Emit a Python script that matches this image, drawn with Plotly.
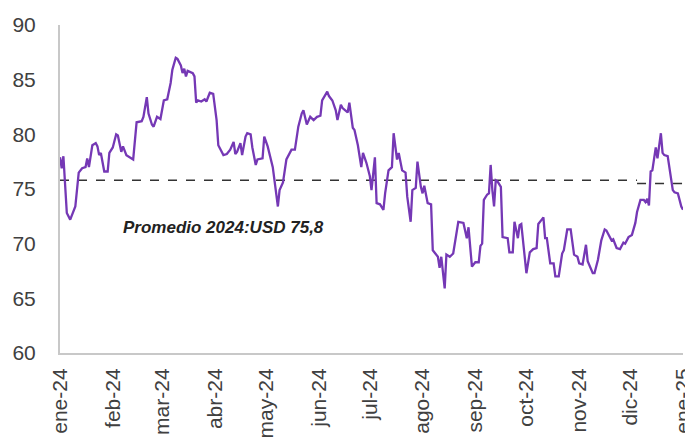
import pandas as pd
import plotly.graph_objects as go

# Brent diario 2024 (días desde el 1-ene-2024, USD/barril)
dia = [0, 1, 2, 4, 6, 9, 11, 13, 15, 16, 17, 19, 21, 22, 23, 24, 26, 28, 29, 31,
       33, 34, 36, 37, 39, 41, 43, 45, 48, 49, 51, 52, 54, 55, 57, 59, 61, 63, 65, 66,
       68, 69, 71, 72, 73, 74, 75, 78, 79, 80, 81, 83, 85, 86, 88, 90, 92, 93, 96, 98,
       100, 102, 103, 104, 106, 107, 109, 110, 112, 113, 115, 116, 119, 120, 122, 125, 126, 128, 129, 131,
       133, 136, 138, 140, 142, 143, 145, 147, 149, 151, 153, 154, 157, 158, 160, 162, 163, 165, 166, 169,
       170, 172, 173, 175, 177, 178, 180, 182, 183, 185, 186, 188, 190, 191, 193, 195, 196, 198, 199, 201,
       203, 204, 206, 207, 209, 210, 212, 213, 214, 216, 218, 219, 222, 223, 224, 226, 227, 229, 231, 233,
       234, 237, 239, 240, 242, 244, 246, 247, 248, 249, 251, 252, 253, 254, 255, 256, 257, 259, 260, 263,
       264, 266, 267, 269, 270, 271, 273, 274, 276, 278, 280, 281, 283, 284, 285, 286, 288, 290, 291, 293,
       295, 296, 298, 300, 302, 304, 305, 307, 309, 310, 313, 314, 316, 318, 320, 321, 324, 325, 327, 329,
       331, 332, 334, 336, 338, 339, 341, 343, 344, 345, 346, 347, 348, 350, 351, 353, 354, 355, 357, 360,
       361, 363, 365, 366]
precio = [77.9, 76.9, 78.0, 72.8, 72.2, 73.4, 76.5, 76.9, 77.0, 77.8, 77.0, 79.0, 79.2, 78.9, 78.1, 78.3, 76.6, 76.6, 78.3, 78.8,
          80.0, 79.9, 78.4, 78.9, 78.1, 77.9, 77.7, 81.1, 81.2, 81.6, 83.4, 81.9, 80.9, 80.7, 81.6, 81.4, 83.1, 83.2, 84.7, 85.9,
          87.0, 86.9, 86.3, 85.6, 86.0, 85.3, 85.8, 85.6, 85.3, 82.9, 83.1, 83.0, 83.2, 83.0, 83.8, 83.7, 81.3, 79.0, 78.1, 78.2,
          78.6, 79.3, 78.2, 78.4, 79.2, 78.1, 79.8, 80.1, 80.0, 78.8, 77.2, 77.7, 77.8, 79.8, 78.9, 77.0, 75.6, 73.4, 74.9, 75.6,
          77.7, 78.6, 78.6, 80.7, 81.9, 82.2, 80.9, 81.6, 81.3, 81.6, 81.7, 83.1, 83.9, 83.5, 83.1, 82.2, 81.3, 82.7, 82.4, 82.0,
          82.9, 80.6, 80.4, 79.0, 77.0, 78.3, 77.4, 76.2, 74.9, 77.9, 73.7, 73.6, 73.1, 74.6, 76.7, 77.0, 80.1, 77.7, 78.3, 76.7,
          76.5, 74.3, 72.0, 74.9, 75.1, 77.5, 75.2, 74.6, 75.3, 73.7, 73.6, 69.4, 68.8, 67.8, 68.8, 65.9, 69.0, 68.8, 69.1, 71.3,
          72.0, 71.9, 70.5, 71.5, 67.9, 68.3, 68.3, 69.8, 70.0, 74.0, 74.5, 74.6, 77.2, 74.9, 73.4, 75.8, 75.7, 75.2, 70.6, 70.5,
          69.2, 69.2, 72.0, 70.5, 71.7, 71.8, 68.5, 67.3, 69.2, 69.5, 69.6, 71.8, 72.2, 72.4, 70.5, 70.5, 68.2, 68.2, 67.0, 67.0,
          69.1, 69.4, 71.3, 71.3, 69.0, 68.8, 68.2, 68.1, 69.9, 68.4, 67.3, 67.3, 68.5, 70.3, 71.3, 71.2, 70.3, 70.4, 69.6, 69.5,
          70.1, 70.0, 70.6, 70.8, 71.9, 72.9, 74.0, 74.0, 73.8, 74.1, 73.5, 76.6, 76.7, 78.8, 77.8, 80.1, 78.3, 78.1, 78.0, 74.9,
          74.7, 74.6, 73.4, 73.1]

promedio = 75.8
promedio_dic = 75.5
meses = ["ene-24", "feb-24", "mar-24", "abr-24", "may-24", "jun-24", "jul-24",
         "ago-24", "sep-24", "oct-24", "nov-24", "dic-24", "ene-25"]

inicio = pd.Timestamp("2024-01-01")
fin = pd.Timestamp("2025-01-01")
fechas = inicio + pd.to_timedelta(dia, unit="D")
ticks = pd.date_range(inicio, fin, freq="MS")

fig = go.Figure()

# linea del promedio (con el pequeño salto de diciembre)
corte = pd.Timestamp("2024-12-05")
fig.add_trace(go.Scatter(
    x=[inicio, corte, None, corte, fin],
    y=[promedio, promedio, None, promedio_dic, promedio_dic],
    mode="lines",
    line=dict(color="#333333", width=1.6, dash="dash"),
    hoverinfo="skip",
))

fig.add_trace(go.Scatter(
    x=fechas, y=precio,
    mode="lines",
    line=dict(color="#7538b5", width=2.3),
    cliponaxis=False,
))

fig.add_annotation(
    x=pd.Timestamp("2024-04-06"), y=71.5,
    text="<b><i>Promedio 2024:USD 75,8</i></b>",
    showarrow=False,
    font=dict(size=17, color="#222222"),
)

# la página deja 8 px de margen en el body: la figura ocupa 685x435
fig.update_layout(
    width=685, height=435,
    margin=dict(l=52, r=10, t=17, b=90, autoexpand=False),
    plot_bgcolor="white", paper_bgcolor="white",
    showlegend=False,
    font=dict(family="Liberation Sans, Arial, sans-serif", color="#404040"),
)
fig.update_xaxes(
    range=[inicio, fin],
    tickvals=ticks, ticktext=meses, tickangle=-90,
    tickfont=dict(size=21),
    showgrid=False, showline=True, linecolor="#c8c8c8", linewidth=2,
    ticks="", automargin=False, ticklabelstandoff=5,
    ticklabeloverflow="allow",
)
fig.update_yaxes(
    range=[60, 90], dtick=5,
    tickfont=dict(size=21),
    showgrid=False, showline=True, linecolor="#c8c8c8", linewidth=2,
    zeroline=False, ticks="", automargin=False, ticklabelstandoff=18,
    ticklabeloverflow="allow",
)

fig.write_html("out.html")
